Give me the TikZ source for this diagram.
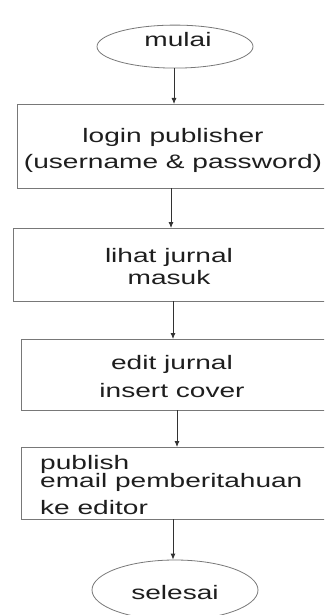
\documentclass[tikz,border=0pt]{standalone}
\usepackage{fontspec}
\setmainfont{Liberation Sans}[FakeStretch=1.44]
\usetikzlibrary{arrows.meta,shapes.geometric}
\definecolor{boxgray}{RGB}{120,120,120}
\definecolor{arrowgray}{RGB}{50,50,50}
\definecolor{textgray}{RGB}{30,30,30}

\begin{document}
\begin{tikzpicture}[x=1pt,y=-1pt]
            \useasboundingbox (0,0) rectangle (324,615);
            \clip (0,0) rectangle (324,615);

            \begin{scope}[every node/.style={draw=boxgray, line width=0.8pt, inner sep=0pt}]
                \node[ellipse, minimum width=156pt, minimum height=43pt] (mulai) at (175,46.6) {};
                \node[ellipse, minimum width=166pt, minimum height=60pt] (selesai) at (175,590) {};
            \end{scope}

            % boxes run off the right edge, so only three sides are drawn
            \begin{scope}[every node/.style={anchor=north west, inner sep=0pt, minimum width=330pt}]
                \node[minimum height=84pt] (login) at (17,104) {};
                \node[minimum height=73pt] (lihat) at (13,228) {};
                \node[minimum height=71pt] (edit) at (21,339) {};
                \node[minimum height=72pt] (publish) at (21,447) {};
            \end{scope}
            \foreach \b in {login,lihat,edit,publish}
                \draw[boxgray, line width=0.8pt] (\b.north east) -- (\b.north west) -- (\b.south west) -- (\b.south east);

            \begin{scope}[every node/.style={inner sep=0pt, text=textgray, font=\fontsize{19.5}{20}\selectfont}]
                \node (mulaiText) at (178,39.6) {mulai};
                \node[align=center] (loginText) at (173,150) {login publisher\\[6pt](username \& password)};
                \node[align=center] (lihatText) at (169,267) {lihat jurnal\\[2pt]masuk};
                \node[align=center] (editText) at (172,377) {edit jurnal\\[8pt]insert cover};
                \node[align=left, anchor=west] (publishText) at (40,485.4) {publish\\[-2pt]email pemberitahuan\\[7pt]ke editor};
                \node (selesaiText) at (175,592.9) {selesai};
            \end{scope}

            \begin{scope}[every edge/.style={draw=arrowgray, line width=0.8pt, -{Latex[length=6pt,width=5pt]}}]
                \path ([xshift=-1pt]mulai.south) edge ([xshift=-1pt]mulai.south |- login.north);
                \path ([xshift=-4pt]login.south -| mulai.south) edge ([xshift=-4pt]lihat.north -| mulai.south);
                \path ([xshift=-2pt]lihat.south -| mulai.south) edge ([xshift=-2pt]edit.north -| mulai.south);
                \path ([xshift=2pt]edit.south -| mulai.south) edge ([xshift=2pt]publish.north -| mulai.south);
                \path ([xshift=-2pt]publish.south -| mulai.south) edge ([xshift=-2pt]selesai.north);
            \end{scope}
        \end{tikzpicture}
\end{document}
